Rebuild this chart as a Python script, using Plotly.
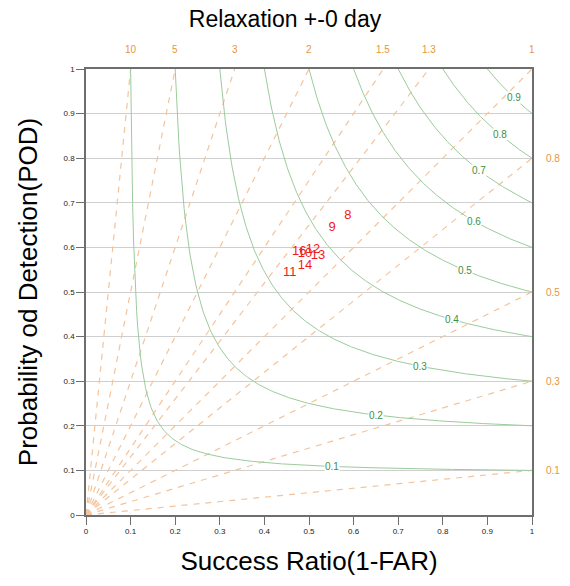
import numpy as np
import plotly.graph_objects as go

# CSI contour levels and label positions (success ratio where label sits)
csi_levels = [0.1, 0.2, 0.3, 0.4, 0.5, 0.6, 0.7, 0.8, 0.9]
csi_label_sr = [0.552, 0.65, 0.749, 0.82, 0.85, 0.87, 0.881, 0.928, 0.96]

# Frequency bias lines
bias_top = [10, 5, 3, 2, 1.5, 1.3, 1]
bias_right = [0.8, 0.5, 0.3, 0.1]

# Point labels and their (SR, POD)
pt_labels = ["8", "9", "11", "14", "16", "12", "10", "13"]
pt_sr = [0.587, 0.552, 0.457, 0.491, 0.478, 0.509, 0.491, 0.520]
pt_pod = [0.670, 0.644, 0.543, 0.558, 0.590, 0.594, 0.585, 0.581]

GREEN_LINE = "#9ccb9c"
GREEN_TXT = "#3f8f3f"
ORANGE_LINE = "#f3c49c"
ORANGE_TXT = "#e8953f"

fig = go.Figure()

# bias lines (dashed from origin)
for b in bias_top + bias_right:
    if b >= 1:
        x1, y1 = 1.0 / b, 1.0
    else:
        x1, y1 = 1.0, b
    fig.add_trace(go.Scatter(x=[0, x1], y=[0, y1], mode="lines",
                             line=dict(color=ORANGE_LINE, width=1.2, dash="6px,6px"),
                             hoverinfo="skip", showlegend=False))

# CSI curves
for c in csi_levels:
    sr = np.linspace(c, 1.0, 400)
    with np.errstate(divide="ignore"):
        pod = 1.0 / (1.0 / c - 1.0 / sr + 1.0)
    m = (pod <= 1.0001) & (pod > 0)
    fig.add_trace(go.Scatter(x=sr[m], y=pod[m], mode="lines",
                             line=dict(color=GREEN_LINE, width=1),
                             hoverinfo="skip", showlegend=False))

# CSI labels
for c, s in zip(csi_levels, csi_label_sr):
    p = 1.0 / (1.0 / c - 1.0 / s + 1.0)
    fig.add_annotation(x=s, y=p, text=str(c), showarrow=False,
                       font=dict(size=10, color=GREEN_TXT, family="Liberation Sans, Arial"),
                       bgcolor="white", borderpad=0)

# points
fig.add_trace(go.Scatter(x=pt_sr, y=pt_pod, mode="text", text=pt_labels,
                         textfont=dict(size=13, color="#ee1c1c", family="Liberation Sans, Arial"),
                         textposition="middle center", showlegend=False, hoverinfo="skip"))

# bias labels
for b in bias_top:
    fig.add_annotation(x=1.0 / b, y=1, xref="x", yref="paper", yanchor="bottom", yshift=12,
                       text=str(b), showarrow=False,
                       font=dict(size=10, color=ORANGE_TXT, family="Liberation Sans, Arial"))
for b in bias_right:
    fig.add_annotation(x=1, y=b, xref="paper", yref="y", xanchor="left", xshift=12,
                       text=str(b), showarrow=False,
                       font=dict(size=10, color=ORANGE_TXT, family="Liberation Sans, Arial"))

ticks = [round(0.1 * i, 1) for i in range(11)]
ticktext = ["0"] + [str(t) for t in ticks[1:-1]] + ["1"]

fig.update_layout(
    width=570, height=586,
    margin=dict(l=86, r=38, t=69, b=71),
    paper_bgcolor="white", plot_bgcolor="white",
    title=dict(text="Relaxation +-0 day", x=0.5, xanchor="center", y=0.968, yanchor="middle",
               font=dict(size=23, color="black", family="Liberation Sans, Arial")),
    font=dict(family="Liberation Sans, Arial", color="#222"),
)
fig.update_xaxes(range=[0, 1], tickvals=ticks, ticktext=ticktext, showgrid=False,
                 zeroline=False, showline=True, linecolor="#6e6e6e", linewidth=1.5, mirror=True,
                 ticks="outside", ticklen=8, tickcolor="#6e6e6e", tickwidth=1.2,
                 tickfont=dict(size=8, color="#222"),
                 title=dict(text="Success Ratio(1-FAR)", font=dict(size=26, color="black"), standoff=16))
fig.update_yaxes(range=[0, 1], tickvals=ticks, ticktext=ticktext, showgrid=True,
                 gridcolor="#cfcfcf", gridwidth=1,
                 zeroline=False, showline=True, linecolor="#6e6e6e", linewidth=1.5, mirror=True,
                 ticks="outside", ticklen=8, tickcolor="#6e6e6e", tickwidth=1.2,
                 tickfont=dict(size=8, color="#222"),
                 title=dict(text="Probability od Detection(POD)", font=dict(size=26, color="black"), standoff=18))

fig.write_html("out.html")
